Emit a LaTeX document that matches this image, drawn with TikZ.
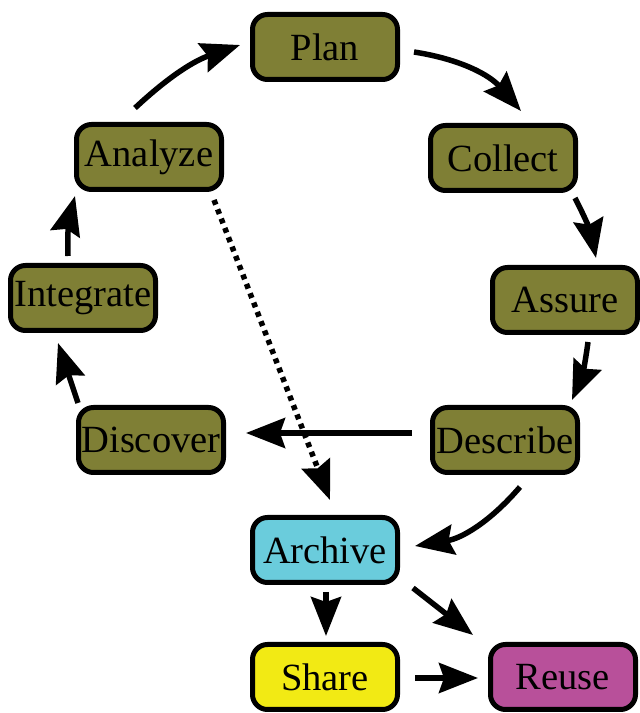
\documentclass[tikz,border=0pt]{standalone}
\usepackage{fontspec}
\setmainfont{Liberation Serif}
\usetikzlibrary{arrows.meta,calc}
\definecolor{olive}{HTML}{7F7F35}
\definecolor{archivec}{HTML}{6ACCDC}
\definecolor{sharec}{HTML}{F2EA14}
\definecolor{reusec}{HTML}{B8509A}
\tikzset{
  box/.style={draw=black, line width=5pt, rounded corners=15pt, minimum width=145pt, minimum height=65pt, inner sep=0pt, font=\fontsize{38.5}{42}\selectfont},
  arr/.style={line width=5.5pt, -{Stealth[length=39pt,width=30pt,inset=5pt]}},
  dotarr/.style={arr, dash pattern=on 5pt off 5pt}
}
\begin{document}
\begin{tikzpicture}[x=1pt,y=1pt]
\useasboundingbox (0,0) rectangle (640,713);
\node[box, fill=olive] (plan) at (325,666) {Plan};
\node[box, fill=olive] (collect) at (503,555) {Collect};
\node[box, fill=olive] (assure) at (565,413) {Assure};
\node[box, fill=olive] (describe) at (505,273) {Describe};
\node[box, fill=olive] (discover) at (151,273) {Discover};
\node[box, fill=olive] (integrate) at (83,415) {Integrate};
\node[box, fill=olive] (analyze) at (149,556) {Analyze};
\node[box, fill=archivec] (archive) at (325,163) {Archive};
\node[box, fill=sharec] (share) at (325,36) {Share};
\node[box, fill=reusec] (reuse) at (563,36) {Reuse};

\draw[arr] ($(plan)+(89,-5)$) to[bend left=20] ($(collect)+(18,47)$);
\draw[arr] ($(collect)+(72,-40)$) to[bend left=8] ($(assure)+(31,42)$);
\draw[arr] ($(assure)+(23,-42)$) to[bend left=8] ($(describe)+(67,40)$);
\draw[arr] ($(describe)+(-93,7)$) -- ($(discover)+(95,7)$);
\draw[arr] ($(discover)+(-73,37)$) -- ($(integrate)+(-25,-45)$);
\draw[arr] ($(integrate)+(-15,42)$) to[bend left=8] ($(analyze)+(-74,-39)$);
\draw[arr] ($(analyze)+(-14,49)$) to[bend left=12] ($(plan)+(-85,2)$);
\draw[dotarr] ($(analyze)+(65,-43)$) -- ($(archive)+(5,50)$);
\draw[arr] ($(describe)+(15,-47)$) to[bend left=20] ($(archive)+(90,4)$);
\draw[arr] ($(archive)+(1,-42)$) -- ($(share)+(1,41)$);
\draw[arr] ($(archive)+(88,-38)$) -- ($(reuse)+(-90,42)$);
\draw[arr] ($(share)+(90,-1)$) -- ($(reuse)+(-85,-1)$);
\end{tikzpicture}
\end{document}
